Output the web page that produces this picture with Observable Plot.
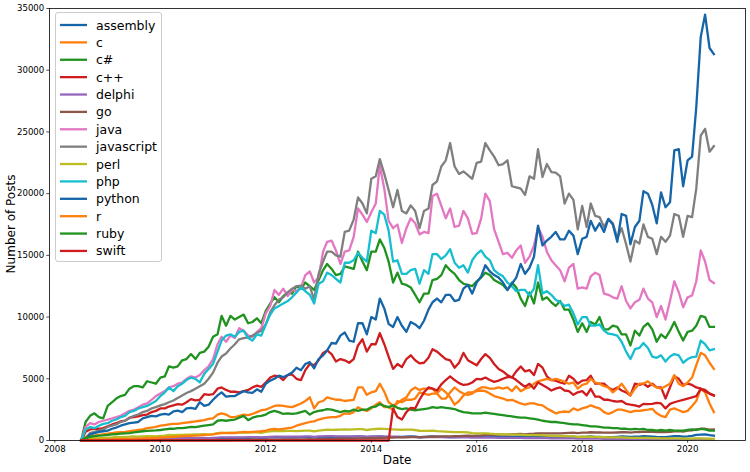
<!DOCTYPE html>
<html><head><meta charset="utf-8">
<script src="https://cdn.jsdelivr.net/npm/d3@7"></script>
<script src="https://cdn.jsdelivr.net/npm/@observablehq/plot@0.6"></script>
<style>
body{margin:0;background:#fff;}
#wrap{position:relative;width:750px;height:472px;font-family:"DejaVu Sans",sans-serif;}
#legend{position:absolute;left:55px;top:12px;width:107px;height:250px;border:0.8px solid #cccccc;border-radius:3px;background:rgba(255,255,255,0.8);box-sizing:border-box;}
#legend svg{position:absolute;left:0;top:0;}
</style>
</head><body>
<div id="wrap"></div>
<script>
// Monthly post counts in thousands, 2008-07 .. 2020-07 (145 months)
const languages = ["assembly","c","c#","c++","delphi","go","java","javascript","perl","php","python","r","ruby","swift"];
const colors = ["#1565a8","#ff7f0e","#1f921f","#cf1d1f","#9467bd","#8c564b","#e377c2","#7f7f7f","#bcbd22","#17becf","#1565a8","#ff7f0e","#1f921f","#cf1d1f"];
const yTicks = [0,5000,10000,15000,20000,25000,30000,35000];
const xTickYears = [2008,2010,2012,2014,2016,2018,2020];

const assembly = [0,0.01,0.03,0.03,0.04,0.04,
0.05,0.06,0.07,0.07,0.08,0.08,0.09,0.09,0.1,0.1,0.1,0.11,
0.12,0.12,0.13,0.13,0.14,0.14,0.15,0.15,0.16,0.16,0.17,0.16,
0.18,0.2,0.21,0.2,0.21,0.21,0.22,0.22,0.21,0.23,0.23,0.22,
0.24,0.25,0.26,0.25,0.25,0.26,0.26,0.25,0.27,0.28,0.28,0.26,
0.28,0.3,0.31,0.3,0.29,0.3,0.3,0.29,0.31,0.32,0.32,0.28,
0.3,0.32,0.33,0.31,0.3,0.3,0.29,0.29,0.31,0.33,0.32,0.28,
0.3,0.32,0.34,0.32,0.3,0.29,0.28,0.28,0.3,0.33,0.33,0.29,
0.3,0.31,0.33,0.32,0.3,0.29,0.28,0.28,0.3,0.32,0.33,0.28,
0.3,0.31,0.34,0.31,0.3,0.29,0.28,0.27,0.3,0.32,0.32,0.28,
0.3,0.31,0.33,0.3,0.3,0.28,0.27,0.27,0.3,0.33,0.32,0.29,
0.31,0.32,0.35,0.33,0.31,0.29,0.28,0.28,0.32,0.35,0.36,0.31,
0.33,0.37,0.45,0.48,0.5,0.43,0.38];

const c = [0,0.3,0.35,0.4,0.45,0.5,
0.55,0.6,0.65,0.68,0.7,0.75,0.8,0.85,0.9,1.0,1.05,1.1,
1.2,1.25,1.3,1.35,1.35,1.4,1.45,1.5,1.55,1.6,1.65,1.75,
1.8,2.1,2.2,2.1,1.9,1.9,2.0,2.1,2.05,2.15,2.3,2.45,
2.5,2.65,2.8,2.85,2.8,2.75,2.7,2.85,3.0,3.2,3.5,2.6,
3.1,3.2,3.5,3.4,3.3,3.3,3.2,3.25,3.3,4.3,4.3,3.7,
3.9,4.0,4.6,3.95,3.1,2.85,3.0,3.3,3.5,4.05,4.3,4.1,
4.2,4.2,4.2,3.8,4.2,3.9,3.5,2.9,3.2,3.65,3.9,3.9,
4.0,4.05,4.0,3.8,3.6,3.5,3.4,3.25,3.3,3.15,3.0,2.9,
3.0,3.0,2.9,2.85,2.6,2.4,2.2,2.3,2.35,2.3,2.6,2.45,
2.6,2.7,2.85,2.7,2.6,2.3,2.15,2.3,2.5,2.5,2.4,2.3,
2.4,2.4,2.45,2.5,2.57,2.2,2.0,1.9,2.5,2.6,2.45,2.3,
2.4,2.8,3.2,4.2,3.9,3.0,2.3];

const csharp = [0,1.5,2.0,2.2,1.9,1.8,
2.8,3.1,3.4,3.6,3.7,4.2,4.4,4.4,4.3,4.8,4.7,4.6,
5.1,5.2,6.0,5.9,6.0,6.5,6.6,7.0,6.6,7.1,7.2,7.6,
8.4,8.6,10.1,9.3,10.1,9.8,10.0,10.2,9.5,9.6,9.9,9.5,
10.5,11.1,11.6,11.2,11.7,12.0,11.9,12.5,12.3,12.8,12.5,12.2,
13.0,13.8,14.3,13.9,13.4,13.5,14.1,14.0,13.9,15.3,14.5,13.8,
15.3,15.3,16.3,15.6,14.5,12.8,13.6,12.7,12.6,12.4,11.8,11.2,
11.9,11.9,13.0,13.1,13.4,14.2,13.8,13.5,13.0,12.7,12.6,12.5,
12.9,13.2,13.6,13.4,13.0,12.8,12.6,12.2,12.8,12.4,11.5,10.9,
12.0,11.1,12.8,11.4,11.6,11.2,10.9,11.3,10.6,10.6,9.8,8.8,
9.5,8.8,9.6,9.4,10.0,9.0,9.0,9.3,9.2,8.6,8.6,7.7,
8.9,8.5,9.2,9.5,9.0,8.0,8.6,8.3,8.9,9.6,8.8,8.1,
8.8,8.9,9.3,10.1,10.0,9.2,9.2];

const cpp = [0,0.7,0.9,0.95,0.95,1.0,
1.15,1.3,1.4,1.55,1.6,1.85,1.9,1.95,2.05,2.1,2.3,2.4,
2.6,2.6,2.75,2.85,2.95,2.9,3.1,3.35,3.25,3.3,3.75,3.7,
3.75,4.2,4.3,4.1,3.95,3.95,3.9,4.0,4.1,4.3,4.45,4.35,
4.7,5.1,5.25,5.2,4.9,5.3,5.35,5.0,4.9,5.7,6.2,6.1,
6.5,7.1,7.3,7.0,6.4,6.6,6.5,6.3,6.6,7.7,8.2,7.2,
7.8,7.8,8.7,7.8,6.8,5.8,6.2,5.95,6.6,6.9,6.5,6.25,
6.3,6.7,7.4,7.2,6.9,6.6,6.5,5.9,6.3,7.1,6.5,6.3,
6.1,6.6,7.0,6.7,6.2,5.8,5.6,5.3,5.1,5.6,6.0,5.6,
5.7,5.3,6.2,5.9,5.2,4.9,4.85,4.7,4.6,5.25,5.0,4.6,
4.85,4.9,5.25,4.6,4.6,4.6,4.3,4.1,4.3,4.05,3.9,3.65,
4.6,4.5,4.6,4.35,4.6,4.3,4.3,3.4,4.3,5.2,5.0,4.5,
4.6,4.5,4.3,4.2,4.0,3.8,3.65];

const delphi = [0,0.01,0.07,0.08,0.08,0.09,
0.1,0.11,0.12,0.12,0.13,0.13,0.14,0.14,0.14,0.15,0.15,0.14,
0.16,0.17,0.18,0.18,0.19,0.19,0.2,0.2,0.2,0.21,0.21,0.19,
0.22,0.24,0.25,0.25,0.25,0.26,0.26,0.26,0.27,0.27,0.27,0.25,
0.28,0.3,0.31,0.31,0.31,0.32,0.32,0.31,0.32,0.33,0.33,0.3,
0.33,0.34,0.36,0.35,0.34,0.34,0.33,0.33,0.34,0.35,0.34,0.31,
0.33,0.33,0.34,0.32,0.31,0.3,0.29,0.28,0.29,0.3,0.29,0.26,
0.27,0.28,0.29,0.28,0.27,0.26,0.25,0.25,0.26,0.26,0.25,0.23,
0.24,0.24,0.25,0.24,0.23,0.22,0.21,0.21,0.21,0.22,0.21,0.19,
0.2,0.2,0.21,0.2,0.19,0.18,0.17,0.17,0.17,0.18,0.17,0.15,
0.16,0.16,0.17,0.16,0.15,0.14,0.14,0.13,0.14,0.14,0.14,0.12,
0.13,0.13,0.14,0.13,0.12,0.12,0.11,0.11,0.11,0.12,0.12,0.1,
0.11,0.11,0.13,0.13,0.12,0.11,0.1];

const go = [0,0,0,0,0,0,
0,0,0,0,0,0,0,0,0,0,0.05,0.04,
0.03,0.03,0.03,0.03,0.03,0.03,0.03,0.03,0.03,0.03,0.03,0.03,
0.03,0.04,0.04,0.04,0.04,0.05,0.05,0.05,0.05,0.06,0.06,0.05,
0.06,0.07,0.07,0.07,0.08,0.08,0.08,0.08,0.09,0.09,0.1,0.09,
0.1,0.11,0.12,0.12,0.13,0.14,0.15,0.15,0.16,0.17,0.18,0.17,
0.19,0.2,0.22,0.22,0.23,0.24,0.25,0.25,0.26,0.27,0.28,0.26,
0.28,0.3,0.32,0.32,0.33,0.34,0.34,0.35,0.36,0.38,0.39,0.37,
0.4,0.42,0.45,0.45,0.46,0.47,0.48,0.48,0.5,0.52,0.53,0.5,
0.53,0.55,0.58,0.57,0.58,0.58,0.58,0.58,0.6,0.62,0.63,0.6,
0.63,0.64,0.67,0.65,0.65,0.64,0.63,0.63,0.65,0.67,0.68,0.64,
0.68,0.68,0.72,0.7,0.7,0.68,0.68,0.68,0.7,0.74,0.76,0.72,
0.8,0.82,0.9,0.95,0.95,0.88,0.9];

const java = [0,1.1,1.4,1.3,1.5,1.6,
1.7,1.8,1.9,2.0,2.2,2.4,2.5,2.7,2.9,3.0,3.3,3.6,
3.8,4.0,4.3,4.4,4.6,4.7,5.0,5.2,5.1,5.3,5.7,6.0,
6.6,7.8,8.4,8.0,8.5,8.3,9.1,8.9,8.5,8.4,8.8,9.1,
10.3,10.9,12.2,11.8,12.3,11.7,12.2,12.1,12.4,13.4,13.7,12.8,
13.2,15.3,16.1,16.2,15.4,14.3,15.3,15.4,16.5,18.8,18.3,17.7,
18.5,19.2,22.3,20.4,17.8,17.2,17.5,16.0,17.2,18.0,17.6,16.7,
16.9,16.8,19.8,20.0,19.0,18.0,18.8,17.3,17.4,18.6,18.0,16.75,
16.8,18.0,20.0,19.4,17.1,16.1,15.1,15.2,14.8,15.4,15.8,14.4,
14.9,15.8,17.3,16.5,15.3,14.6,14.2,13.8,12.9,14.0,14.3,12.3,
12.4,12.3,13.3,13.6,13.4,11.9,11.8,11.6,11.5,12.5,11.3,10.7,
11.2,11.4,12.3,11.5,11.2,10.0,10.9,9.8,11.3,12.9,12.0,10.8,
11.6,11.75,12.9,15.4,14.5,13.0,12.75];

const javascript = [0,0.2,0.6,0.7,0.8,0.9,
1.1,1.2,1.3,1.5,1.6,1.8,2.0,2.1,2.3,2.4,2.6,2.7,
2.85,2.95,3.1,3.24,3.45,3.65,3.85,4.0,4.2,4.4,4.6,5.0,
5.5,6.3,6.8,7.05,7.45,7.8,8.2,8.3,8.35,8.5,8.7,8.9,
9.4,10.4,10.95,11.4,11.6,12.0,12.3,12.5,12.55,12.3,12.5,11.4,
13.5,14.5,15.3,15.3,15.0,14.9,16.9,17.0,17.9,19.7,19.2,18.4,
21.2,21.4,22.8,21.6,20.3,18.9,20.3,18.6,18.4,19.05,18.6,17.2,
18.6,18.8,20.7,21.0,22.2,22.7,24.1,22.2,21.6,21.8,21.5,21.2,
22.5,22.6,24.1,23.5,23.0,22.3,22.4,22.7,20.6,20.5,20.4,19.9,
21.4,21.2,23.6,21.35,22.4,21.75,21.7,21.4,19.2,20.0,19.5,17.1,
19.0,17.3,19.2,18.2,18.1,17.3,17.95,17.6,16.4,17.2,15.9,14.5,
16.2,15.95,17.5,16.5,16.35,15.1,16.5,16.1,16.6,18.35,18.2,16.5,
18.2,18.1,20.4,24.7,25.25,23.4,23.85];

const perl = [0,0.13,0.2,0.2,0.22,0.2,
0.24,0.26,0.29,0.28,0.3,0.31,0.33,0.32,0.34,0.36,0.36,0.34,
0.38,0.4,0.45,0.44,0.45,0.46,0.47,0.48,0.49,0.5,0.52,0.48,
0.52,0.6,0.64,0.62,0.62,0.63,0.64,0.64,0.64,0.66,0.66,0.62,
0.7,0.74,0.78,0.76,0.77,0.78,0.78,0.76,0.78,0.8,0.8,0.74,
0.8,0.84,0.88,0.86,0.87,0.88,0.9,0.88,0.9,0.92,0.92,0.85,
0.9,0.93,0.96,0.94,0.92,0.9,0.88,0.87,0.88,0.88,0.85,0.79,
0.78,0.78,0.8,0.76,0.74,0.72,0.7,0.68,0.68,0.68,0.65,0.6,
0.58,0.57,0.58,0.55,0.53,0.52,0.5,0.49,0.48,0.48,0.47,0.43,
0.43,0.43,0.44,0.42,0.4,0.38,0.37,0.36,0.35,0.35,0.34,0.3,
0.31,0.3,0.31,0.29,0.28,0.27,0.26,0.25,0.25,0.25,0.24,0.21,
0.22,0.21,0.22,0.21,0.2,0.19,0.18,0.18,0.18,0.18,0.17,0.15,
0.16,0.15,0.17,0.17,0.16,0.15,0.14];

const php = [0,0.9,1.1,1.0,1.2,1.35,
1.4,1.6,1.7,1.9,2.0,2.3,2.4,2.6,2.7,2.8,3.0,3.2,
3.6,3.9,4.3,4.0,4.4,4.6,4.9,5.1,5.0,4.7,5.4,5.8,
6.2,7.2,8.1,8.5,8.6,8.4,8.8,8.9,8.3,8.1,8.6,8.5,
9.4,10.2,10.7,10.9,11.1,11.3,11.6,12.0,12.4,12.1,11.8,11.1,
12.7,12.9,13.6,13.4,13.1,12.8,14.4,14.4,14.6,15.2,14.8,14.5,
17.0,16.8,18.6,18.3,17.0,14.5,14.6,13.5,13.5,13.8,13.9,12.7,
13.8,13.5,15.1,15.1,14.7,15.0,15.5,14.4,14.0,14.2,13.6,14.6,
15.1,15.4,14.9,14.6,13.8,13.5,13.3,12.8,12.5,12.1,12.2,12.2,
11.75,12.3,14.2,11.9,12.1,11.8,11.4,11.2,10.9,11.0,10.3,9.4,
10.0,10.0,9.3,9.3,9.4,8.9,8.65,8.6,8.5,8.0,7.2,6.6,
7.4,7.5,7.9,7.5,6.8,6.7,6.9,6.4,6.8,7.0,6.9,6.3,
6.6,6.75,6.8,8.1,7.8,7.3,7.4];

const python = [0,0.1,0.5,0.6,0.7,0.75,
0.8,0.95,1.05,1.2,1.3,1.4,1.45,1.5,1.8,1.9,2.0,1.95,
2.1,2.15,2.1,2.35,2.43,2.3,2.6,2.65,2.57,3.1,2.8,2.9,
3.3,3.65,3.9,3.55,3.6,3.6,3.8,4.0,3.9,3.85,4.15,3.95,
4.6,4.85,5.0,5.25,5.13,5.3,5.5,5.9,5.7,6.2,6.35,5.85,
6.6,6.9,7.3,7.9,7.85,8.5,8.75,8.1,8.0,9.5,9.5,8.6,
10.0,9.8,11.5,10.7,9.45,9.2,10.0,9.3,8.8,9.6,9.4,9.1,
9.7,10.6,11.2,11.5,11.2,11.8,11.8,11.3,11.4,12.3,12.6,11.9,
12.8,13.3,14.2,13.7,13.4,13.2,12.8,12.2,12.7,13.2,14.3,13.5,
14.0,14.9,17.4,15.8,16.2,16.5,16.9,16.3,16.3,17.0,16.6,15.1,
16.35,16.5,17.8,17.0,17.6,16.9,17.95,17.5,16.1,18.35,18.2,15.9,
17.3,17.8,20.2,20.0,19.1,17.6,20.1,18.9,19.3,23.5,23.6,20.6,
22.7,23.0,27.0,32.7,34.5,31.8,31.3];

const r = [0,0.01,0.05,0.05,0.05,0.06,
0.07,0.08,0.1,0.1,0.12,0.13,0.14,0.16,0.17,0.19,0.2,0.22,
0.24,0.26,0.28,0.3,0.32,0.35,0.37,0.38,0.4,0.42,0.45,0.47,
0.5,0.55,0.6,0.6,0.62,0.6,0.65,0.7,0.68,0.7,0.72,0.75,
0.8,0.9,0.95,0.9,0.95,1.0,1.05,1.2,1.3,1.4,1.5,1.55,
1.7,1.8,1.85,1.9,1.9,2.0,2.2,2.15,2.3,2.7,2.5,2.4,
2.6,2.9,3.1,2.7,2.7,2.5,3.2,3.1,3.3,3.3,3.4,3.9,
3.8,3.7,3.8,3.8,3.4,3.4,3.9,4.3,4.0,3.8,3.7,3.8,
4.1,4.3,4.3,4.2,4.2,4.3,4.2,4.3,4.0,4.4,4.0,4.2,
4.3,4.6,4.8,4.9,5.0,4.9,5.0,4.9,4.75,4.6,4.7,4.2,
4.5,4.6,5.0,4.7,4.6,4.4,4.3,3.9,4.2,4.6,4.1,3.65,
4.2,4.6,4.6,4.8,4.5,4.3,4.2,4.4,4.6,5.3,4.6,4.4,
4.7,5.1,6.1,7.1,6.9,6.3,5.8];

const ruby = [0,0.2,0.3,0.35,0.4,0.42,
0.45,0.5,0.52,0.55,0.58,0.6,0.65,0.7,0.75,0.78,0.8,0.82,
0.85,0.9,0.95,0.95,1.0,1.0,1.05,1.1,1.08,1.15,1.2,1.25,
1.3,1.6,1.65,1.6,1.65,1.7,1.85,2.0,1.65,1.85,1.95,2.0,
2.1,2.3,2.4,2.3,2.15,2.2,2.15,2.2,2.3,2.4,2.1,2.3,
2.4,2.45,2.55,2.5,2.4,2.3,2.4,2.35,2.5,2.4,2.5,2.5,
2.7,2.75,2.95,2.8,2.7,2.85,2.65,2.55,2.6,2.5,2.45,2.5,
2.55,2.6,2.7,2.65,2.7,2.65,2.6,2.55,2.4,2.3,2.25,2.2,
2.2,2.2,2.25,2.2,2.15,2.1,2.05,2.0,1.95,1.9,1.85,1.85,
1.8,1.75,1.7,1.6,1.55,1.5,1.5,1.45,1.4,1.35,1.3,1.3,
1.25,1.2,1.15,1.15,1.1,1.05,1.05,1.0,1.0,0.95,0.95,0.9,
0.95,0.9,0.95,0.85,0.85,0.8,0.85,0.8,0.85,0.8,0.8,0.8,
0.85,0.9,0.85,0.95,0.9,0.8,0.8];

const swift = [0,0,0,0,0,0,
0,0,0,0,0,0,0,0,0,0,0,0,
0,0,0,0,0,0,0,0,0,0,0,0,
0,0,0,0,0,0,0,0,0,0,0,0,
0,0,0,0,0,0,0,0,0,0,0,0,
0,0,0,0,0,0,0,0,0,0,0,0,
0,0,0,0,0,2.6,1.9,1.7,2.3,2.65,2.6,3.3,
3.9,4.3,4.2,4.05,4.55,4.9,5.2,4.9,4.65,4.5,4.55,4.7,
5.0,4.95,5.1,4.9,4.75,4.85,5.0,5.13,5.13,4.9,4.6,4.35,
4.6,4.2,4.7,4.5,4.3,4.05,4.2,4.3,4.05,4.0,3.7,3.9,
4.0,3.65,4.19,3.55,3.55,3.3,3.3,3.2,3.15,3.2,2.97,2.9,
2.85,2.75,2.97,2.95,2.97,3.05,3.0,2.6,2.97,3.1,3.2,3.3,
3.4,3.5,3.6,4.19,4.1,3.8,3.65];

const seriesValues = [assembly,c,csharp,cpp,delphi,go,java,javascript,perl,php,python,r,ruby,swift];

const months = d3.utcMonth.range(new Date(Date.UTC(2008,6,1)), new Date(Date.UTC(2020,7,1)));
seriesValues.forEach((s,k)=>{ if (s.length !== months.length) throw new Error(languages[k]+" has "+s.length+" values, expected "+months.length); });

const tables = languages.map((lang,k)=> seriesValues[k].map((v,i)=>({date: months[i], posts: v*1000, lang})));

const fontTick = 8.6;
const fontLabel = 12;
const fontLegend = 12.5;
const chart = Plot.plot({
  width: 750, height: 472,
  marginLeft: 49, marginRight: 5, marginTop: 8, marginBottom: 32,
  style: {fontFamily: '"DejaVu Sans", sans-serif', background: "#fff", overflow: "visible"},
  x: {type: "utc", domain: [new Date(Date.UTC(2007,10,25)), new Date(Date.UTC(2021,1,5))]},
  y: {domain: [0, 35000]},
  marks: [
    ...tables.map((t,k)=> Plot.line(t, {x: "date", y: "posts", stroke: colors[k], strokeWidth: 2.3, strokeLinejoin: "round", strokeLinecap: "square"})),
    Plot.frame({stroke: "#000", strokeWidth: 0.8}),
    Plot.axisX({ticks: xTickYears.map(y=>new Date(Date.UTC(y,0,1))), tickFormat: d3.utcFormat("%Y"), tickSize: 2.7, tickPadding: 3, fontSize: fontTick, label: null, stroke: "#000", strokeWidth: 0.7}),
    Plot.axisY({ticks: yTicks, tickFormat: d3.format("d"), tickSize: 2.7, tickPadding: 2.5, fontSize: fontTick, label: null, stroke: "#000", strokeWidth: 0.7})
  ]
});

const svg = d3.select(chart);
svg.append("text").attr("x", 397).attr("y", 464).attr("text-anchor","middle")
   .attr("font-size", fontLabel).attr("font-family",'"DejaVu Sans", sans-serif').attr("fill","#000").text("Date");
svg.append("text").attr("transform","translate(15,224) rotate(-90)").attr("text-anchor","middle")
   .attr("font-size", fontLabel).attr("font-family",'"DejaVu Sans", sans-serif').attr("fill","#000").text("Number of Posts");

const wrap = document.getElementById("wrap");
wrap.appendChild(chart);

// legend (upper left, inside the axes)
const legend = d3.select(wrap).append("div").attr("id","legend");
const lsvg = legend.append("svg").attr("width",106).attr("height",248);
const rowsG = lsvg.selectAll("g").data(languages).join("g")
  .attr("transform",(d,k)=>`translate(0,${12 + k*17.38})`);
rowsG.append("line").attr("x1",4).attr("x2",31).attr("y1",0).attr("y2",0)
  .attr("stroke",(d,k)=>colors[k]).attr("stroke-width",2.3);
rowsG.append("text").attr("x",40).attr("y",0).attr("dy","0.36em")
  .attr("font-size",fontLegend).attr("font-family",'"DejaVu Sans", sans-serif').attr("fill","#000")
  .text(d=>d);
</script>
</body></html>
